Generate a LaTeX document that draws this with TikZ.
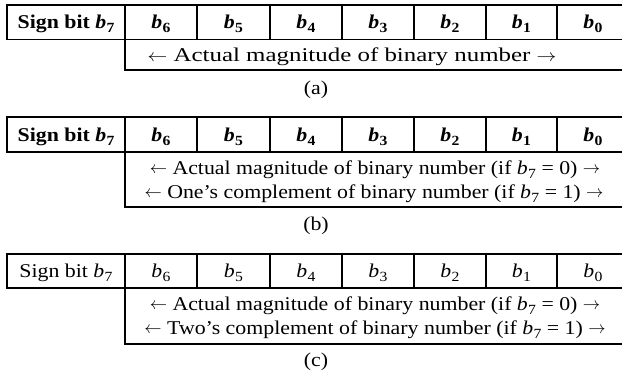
\documentclass[tikz,border=0pt]{standalone}
\usepackage{fontspec}
\setmainfont{Liberation Serif}[FakeStretch=1.12]
\newcommand\bv[1]{\textit{b}\kern0.3pt\raisebox{-4pt}{\fontsize{14}{14}\selectfont #1}}
\newcommand\lar{\raisebox{0.5pt}{\fontsize{18}{18}\selectfont$\leftarrow$}}
\newcommand\rar{\raisebox{0.5pt}{\fontsize{18}{18}\selectfont$\rightarrow$}}
\newcommand\bitrow[4]{% #1 prefix, #2 top, #3 mid, #4 font
  \draw[grid] (7,#2) -- (622,#2);
  \draw[grid] (7,#3) -- (622,#3);
  \foreach \xx in {7,125,197,270,342,414,486,557} \draw[grid] (\xx,#2) -- (\xx,#3);
  \node[txt,font=#4] (#1s) at (66,#3-11) {Sign bit \bv{7}};
  \foreach \cc/\kk in {161/6,233.5/5,306/4,378/3,450/2,521.5/1,593/0}
    \node[txt,font=#4] (#1b\kk) at (\cc,#3-11) {\bv{\kk}};
}
\begin{document}
\begin{tikzpicture}[x=1pt,y=-1pt,
  grid/.style={line width=1.1pt, line cap=rect},
  txt/.style={inner sep=0pt, anchor=base, font=\fontsize{19.5}{23}\selectfont}]
\useasboundingbox (0,0) rectangle (622,372);
% (a)
\bitrow{a}{5}{39.5}{\fontsize{19.5}{23}\selectfont\bfseries}
\draw[grid] (125,39.5) -- (125,70) -- (622,70);
\node[txt] (am) at (352,61.5) {\scalebox{1.14}[1]{\lar{} Actual magnitude of binary number \rar}};
\node[txt] (acap) at (316,94) {(a)};
% (b)
\bitrow{b}{117}{152}{\fontsize{19.5}{23}\selectfont\bfseries}
\draw[grid] (125,152) -- (125,207) -- (622,207);
\node[txt] (bm1) at (375,174) {\lar{} Actual magnitude of binary number (if \bv{7} = 0) \rar};
\node[txt] (bm2) at (374,198) {\lar{} One’s complement of binary number (if \bv{7} = 1) \rar};
\node[txt] (bcap) at (316,230) {(b)};
% (c)
\bitrow{c}{254}{288}{\fontsize{19.5}{23}\selectfont}
\draw[grid] (125,288) -- (125,344) -- (622,344);
\node[txt] (cm1) at (375,310) {\lar{} Actual magnitude of binary number (if \bv{7} = 0) \rar};
\node[txt] (cm2) at (375,334) {\lar{} Two’s complement of binary number (if \bv{7} = 1) \rar};
\node[txt] (ccap) at (316,366) {(c)};
\end{tikzpicture}
\end{document}
